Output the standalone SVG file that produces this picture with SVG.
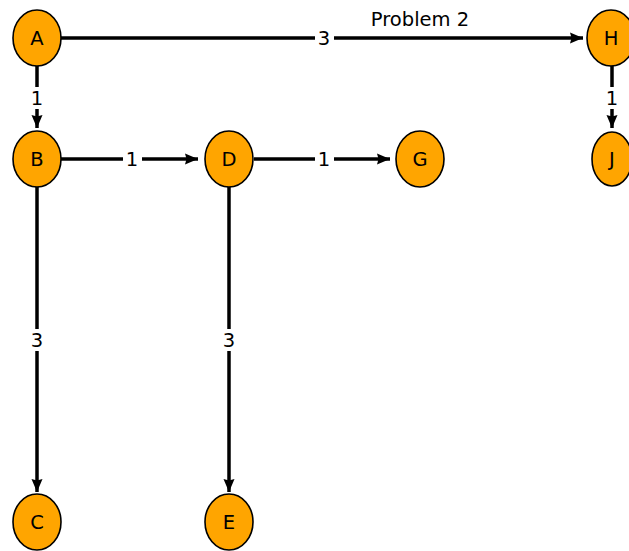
<svg xmlns="http://www.w3.org/2000/svg" width="629" height="551" viewBox="0 0 629 551">
<style>
.n ellipse{fill:#FFA500;stroke:#000;stroke-width:1.6}
.t{font-family:"DejaVu Sans",sans-serif;font-size:19.5px;fill:#000;text-anchor:middle;dominant-baseline:central}
.e line{stroke:#000;stroke-width:3.5;marker-end:url(#ah)}
.lb{fill:#fff}
</style>
<defs>
<marker id="ah" markerUnits="userSpaceOnUse" markerWidth="14" markerHeight="14" refX="13" refY="7" orient="auto">
<path d="M0,1.5 L13,7 L0,12.5 L1.5,7 Z" fill="#000"/>
</marker>
</defs>
<rect width="629" height="551" fill="#fff"/>
<g id="edges" class="e">
<line x1="61" y1="38" x2="583" y2="38"/>
<line x1="37" y1="66" x2="37" y2="128"/>
<line x1="61" y1="159" x2="198" y2="159"/>
<line x1="254" y1="159" x2="390" y2="159"/>
<line x1="37" y1="186" x2="37" y2="492"/>
<line x1="229" y1="186" x2="229" y2="492"/>
<line x1="612" y1="66" x2="612" y2="128"/>
</g>
<g id="edge-labels">
<rect class="lb" x="315" y="27" width="19" height="22"/><text class="t" x="324" y="38">3</text>
<rect class="lb" x="28" y="87" width="19" height="22"/><text class="t" x="37" y="98">1</text>
<rect class="lb" x="123" y="148" width="19" height="22"/><text class="t" x="132" y="159">1</text>
<rect class="lb" x="315" y="148" width="19" height="22"/><text class="t" x="324" y="159">1</text>
<rect class="lb" x="28" y="329" width="19" height="22"/><text class="t" x="37" y="340">3</text>
<rect class="lb" x="220" y="329" width="19" height="22"/><text class="t" x="229" y="340">3</text>
<rect class="lb" x="603" y="87" width="19" height="22"/><text class="t" x="612" y="98">1</text>
</g>
<text class="t" x="420" y="19">Problem 2</text>
<g id="A" class="n"><ellipse cx="37" cy="38" rx="24" ry="28"/><text class="t" x="37" y="38">A</text></g>
<g id="B" class="n"><ellipse cx="37" cy="159" rx="24" ry="28"/><text class="t" x="37" y="159">B</text></g>
<g id="D" class="n"><ellipse cx="229" cy="159" rx="24" ry="28"/><text class="t" x="229" y="159">D</text></g>
<g id="G" class="n"><ellipse cx="420" cy="159" rx="24" ry="28"/><text class="t" x="420" y="159">G</text></g>
<g id="H" class="n"><ellipse cx="611" cy="38" rx="24" ry="28"/><text class="t" x="611" y="38">H</text></g>
<g id="J" class="n"><ellipse cx="612" cy="159" rx="20" ry="27"/><text class="t" x="612" y="159">J</text></g>
<g id="C" class="n"><ellipse cx="37" cy="522" rx="24" ry="28"/><text class="t" x="37" y="522">C</text></g>
<g id="E" class="n"><ellipse cx="229" cy="522" rx="24" ry="28"/><text class="t" x="229" y="522">E</text></g>
</svg>
